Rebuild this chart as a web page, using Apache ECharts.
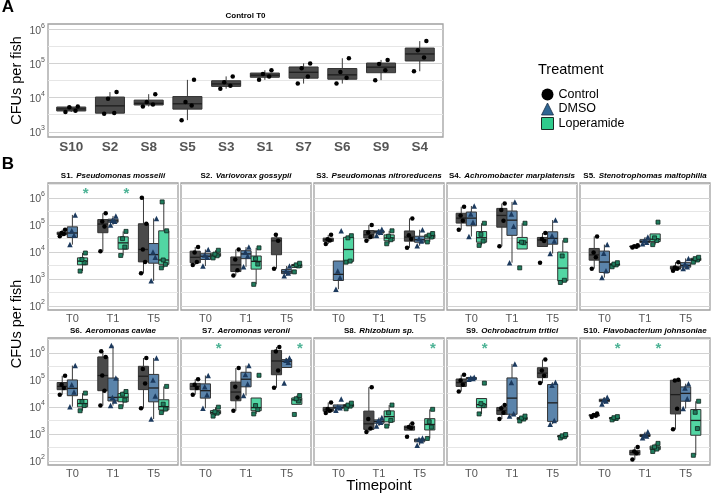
<!DOCTYPE html>
<html><head><meta charset="utf-8">
<script src="https://cdn.jsdelivr.net/npm/echarts@6/dist/echarts.min.js"></script>
<style>html,body{margin:0;padding:0;background:#fff}#c{width:713px;height:494px}</style>
</head><body><div id="c"></div>
<script>
// ================= DATA =================
// Panel A: Control T0 (CFUs per fish, one value per fish)
const strainsA = ['S10','S2','S8','S5','S3','S1','S7','S6','S9','S4'];
const controlT0 = [
  [3800,4170,5250,5500],
  [3400,3550,9300,14500],
  [5500,6300,7400,12600],
  [2200,5900,7400,33000],
  [18200,22400,28200,41700],
  [33000,41700,49000,63000],
  [25700,41700,72400,100000],
  [25700,38000,56200,141000],
  [32400,63100,95500,126000],
  [58900,148000,240000,447000]
];
// Panel B
const timepoints = ['T0','T1','T5'];
const treatments = ['Control','DMSO','Loperamide'];
const strainIds = ['S1','S2','S3','S4','S5','S6','S7','S8','S9','S10'];
const species = ['Pseudomonas mosselii','Variovorax gossypii','Pseudomonas nitroreducens','Achromobacter marplatensis','Stenotrophomas maltophilia','Aeromonas caviae','Aeromonas veronii','Rhizobium sp.','Ochrobactrum tritici','Flavobacterium johnsoniae'];
// each strain: [Control[T0,T1,T5], DMSO[T0,T1,T5], Loperamide[T0,T1,T5]]
const s1 = [
  [[38000,45700,50100,66100],[10500,87100,132000,269000],[1620,4270,12300,110000,1000000]],
  [[18600,41700,60300,234000],[100000,135000,148000,214000],[850,6300,10000,174000]],
  [[1950,3980,5250,9100],[7400,15100,30900,57500],[2570,3470,5010,60300,708000]]
];
const s2 = [
  [[3300,4200,9500,15100],[1350,2090,5250,12300],[2400,25700,42700]],
  [[3000,6300,7600,12300],[2800,7100,10000,15100],[1320,1660,2000,3020]],
  [[6000,7200,8300,11500],[630,3550,5600,14100],[1820,3020,3310,3800]]
];
const s3 = [
  [[19500,26300,29500,42700],[25700,35500,52500,100000],[14100,30200,41700,174000]],
  [[417,1120,1950,60300],[40700,53700,57500,69200],[17000,25100,31600,66100]],
  [[4170,4570,33100,39800],[20000,28200,38000,60300],[23400,35500,41700,47900]]
];
const s4 = [
  [[66100,141000,224000,468000],[16200,141000,355000,617000],[3980,25100,30200,50100]],
  [[37200,126000,251000,501000],[3980,89100,251000,708000],[8700,25100,39800,151000]],
  [[17400,25100,44700,115000],[2570,21900,22900,115000],[740,890,7080,26900]]
];
const s5 = [
  [[2400,6300,9550,37200],[14500,15500,16200,17800],[2000,2400,2630,4170]],
  [[1120,2000,8900,18600],[20000,22900,26300,35500],[2450,2820,3550,5750]],
  [[2820,3310,3550,3980],[18600,26300,33100,126000],[4170,5010,5620,6310]]
];
const s6 = [
  [[28200,50100,66100,141000],[11200,39800,145000,708000,1150000],[8900,74100,251000,646000]],
  [[10200,35500,66100,339000],[11200,16600,22400,117000,1860000],[3550,25100,100000,646000]],
  [[7200,11200,15800,32400],[10200,17800,29500,37200],[6170,8300,12600,57500]]
];
const s7 = [
  [[28200,50100,66100,105000],[7200,22400,56200,275000],[51300,224000,1120000,1660000]],
  [[8900,28200,56200,145000],[26300,70800,158000,339000],[75900,447000,537000,646000]],
  [[4570,5890,6610,9770],[5500,7940,11200,148000],[5250,16600,20000,26300]]
];
const s8 = [
  [[5890,7240,8320,14500],[1170,1580,3550,53700],[794,1660,1820,2450]],
  [[7590,9330,10000,19500],[1950,2690,3090,4070],[380,560,630,710]],
  [[8510,10700,11700,13800],[1950,3160,6030,11700],[680,1780,2820,8130]]
];
const s9 = [
  [[37200,66100,95500,155000],[3550,6030,8910,11700],[75900,141000,224000,562000]],
  [[105000,112000,120000,126000],[4570,5620,79400,389000],[2290,3160,63100,81300]],
  [[5500,11200,13200,75900],[3020,3550,3890,4570],[710,790,850,950]]
];
const s10 = [
  [[4270,4680,5010,5750],[112,191,224,331],[1480,8510,95500,102000]],
  [[12900,16600,18200,22900],[724,832,891,1200],[8700,20000,50100,72400]],
  [[3310,3720,3980,4370],[224,275,331,447],[162,1580,6310,16200]]
];
const strainData = [s1,s2,s3,s4,s5,s6,s7,s8,s9,s10];
// significance stars (Loperamide vs control): [strain index, timepoint index]
const starMarks = [[0,0],[0,1],[6,0],[6,2],[7,2],[8,0],[9,0],[9,1]];
const starLevel = 1900000;

// ================= STYLE / LAYOUT =================
const FONT = '"Liberation Sans", Arial, Helvetica, sans-serif';
const fills = ['#4a4a4a', '#5b84ab', '#52d6a3'];
const ptColor = ['#000000', '#1c3a5e', '#1f7d5e'];
const ptBorder = ['#000000', '#1c3a5e', '#10241d'];
const ptSymbol = ['circle', 'triangle', 'rect'];
const ptSize = [4.5, 5.5, 4];
const jitterB = [-0.6, 0.4, -0.15, 0.7, -0.4];
const jitterA = [-1.5, 1.1, -0.5, 1.7, -1.0];
const dodge = [-2.5, 0, 2.5];
const starOffset = 3.3;
const colLeft = [48, 181, 314, 447, 580], colW = 130;
const rowTop = [183, 338], rowH = 127;
const gridA = {left: 48, top: 24, width: 395, height: 113};
const labelGray = '#555';

// gridline colour pattern: ticks every 0.05 decade starting at x.85
const gridPattern = [];
for (let i = 0; i < 20; i++) gridPattern.push(i === 3 ? '#d2d2d2' : (i === 13 ? '#e6e6e6' : 'rgba(0,0,0,0)'));

function q7(s, p) { const h = (s.length - 1) * p, lo = Math.floor(h), hi = Math.ceil(h); return s[lo] + (h - lo) * (s[hi] - s[lo]); }
function boxStats(vals) {
  const l = vals.map(v => Math.log10(v) * 100).sort((a, b) => a - b);
  const q1 = q7(l, .25), m = q7(l, .5), q3 = q7(l, .75), iqr = q3 - q1;
  const lo = Math.min(...l.filter(v => v >= q1 - 1.5 * iqr));
  const hi = Math.max(...l.filter(v => v <= q3 + 1.5 * iqr));
  return [lo, q1, m, q3, hi];
}

const yRich = {
  b: {fontSize: 10.5, color: labelGray, fontFamily: FONT, lineHeight: 14, verticalAlign: 'bottom'},
  s: {fontSize: 7, color: labelGray, fontFamily: FONT, lineHeight: 9, verticalAlign: 'top'}
};
function makeY(gi, min, max, show) {
  return {type: 'value', gridIndex: gi, min, max, interval: 5,
    axisLine: {show: false}, axisTick: {show: false},
    splitLine: {show: true, lineStyle: {color: gridPattern, width: 1}},
    axisLabel: {show: show, margin: 3, formatter: v => (Math.round(v) % 100 === 0) ? '{b|10}{s|' + Math.round(v / 100) + '}' : '', rich: yRich}};
}
function makeX(gi, min, max, labels, lab) {
  return {type: 'value', gridIndex: gi, min, max, interval: 2,
    axisLine: {show: false}, axisTick: {show: false}, splitLine: {show: false},
    axisLabel: Object.assign({formatter: v => (v >= 0 && v % 10 === 0 && labels[v / 10]) ? labels[v / 10] : ''}, lab)};
}
function renderBox(params, api) {
  const x = api.value(0), w = api.value(6), ci = api.value(7);
  const lo = api.coord([x, api.value(1)]), q1 = api.coord([x, api.value(2)]), md = api.coord([x, api.value(3)]);
  const q3 = api.coord([x, api.value(4)]), hi = api.coord([x, api.value(5)]);
  const half = api.size([w, 0])[0] / 2;
  const stroke = '#333';
  return {type: 'group', children: [
    {type: 'line', shape: {x1: lo[0], y1: lo[1], x2: q1[0], y2: q1[1]}, style: {stroke: '#3a3a3a', lineWidth: 1}},
    {type: 'line', shape: {x1: q3[0], y1: q3[1], x2: hi[0], y2: hi[1]}, style: {stroke: '#3a3a3a', lineWidth: 1}},
    {type: 'rect', shape: {x: q3[0] - half, y: q3[1], width: 2 * half, height: q1[1] - q3[1]}, style: {fill: fills[ci], stroke: stroke, lineWidth: 1}},
    {type: 'line', shape: {x1: md[0] - half, y1: md[1], x2: md[0] + half, y2: md[1]}, style: {stroke: '#1e1e1e', lineWidth: 1.3}}
  ]};
}
function pointSeries(gi, k, data) {
  return {type: 'scatter', name: treatments[k], xAxisIndex: gi, yAxisIndex: gi, z: 4, data,
    symbol: ptSymbol[k], symbolSize: ptSize[k], itemStyle: {color: ptColor[k], borderColor: ptBorder[k], borderWidth: k === 2 ? 0.8 : 0, opacity: 1}};
}

const grids = [], xAxes = [], yAxes = [], series = [], graphics = [];
const gridBase = {show: true, borderColor: '#a0a0a0', borderWidth: 1.3, backgroundColor: 'rgba(0,0,0,0)'};

// ---- Panel A
grids.push(Object.assign({}, gridBase, gridA));
xAxes.push(makeX(0, -6, 96, strainsA, {margin: 3, fontSize: 13.5, fontWeight: 'bold', color: labelGray, fontFamily: FONT}));
yAxes.push(makeY(0, 285, 615, true));
{
  const boxes = [], pts = [];
  controlT0.forEach((vals, i) => {
    const st = boxStats(vals);
    boxes.push([10 * i].concat(st, [7.5, 0]));
    vals.forEach((v, j) => pts.push([10 * i + jitterA[j % jitterA.length], Math.log10(v) * 100]));
  });
  series.push({type: 'custom', name: 'boxA', xAxisIndex: 0, yAxisIndex: 0, z: 2, renderItem: renderBox, data: boxes, encode: {x: 0, y: [1, 2, 3, 4, 5]}, clip: true});
  series.push(pointSeries(0, 0, pts));
}

// ---- Panel B
strainData.forEach((sd, s) => {
  const gi = s + 1, col = s % 5, row = Math.floor(s / 5);
  grids.push(Object.assign({}, gridBase, {left: colLeft[col], top: rowTop[row], width: colW, height: rowH}));
  xAxes.push(makeX(gi, -6, 26, timepoints, {margin: 3, fontSize: 11, color: labelGray, fontFamily: FONT}));
  yAxes.push(makeY(gi, 185, 655, col === 0));
  const boxes = [];
  sd.forEach((byTime, k) => {
    const pts = [];
    byTime.forEach((vals, t) => {
      const x = 10 * t + dodge[k];
      boxes.push([x].concat(boxStats(vals), [2.5, k]));
      vals.forEach((v, j) => pts.push([x + jitterB[j % jitterB.length], Math.log10(v) * 100]));
    });
    series.push(pointSeries(gi, k, pts));
  });
  series.push({type: 'custom', name: 'box' + s, xAxisIndex: gi, yAxisIndex: gi, z: 2, renderItem: renderBox, data: boxes, encode: {x: 0, y: [1, 2, 3, 4, 5]}, clip: true});
  const stars = starMarks.filter(m => m[0] === s).map(m => [10 * m[1] + starOffset, Math.log10(starLevel) * 100]);
  if (stars.length) {
    series.push({type: 'scatter', name: 'sig' + s, xAxisIndex: gi, yAxisIndex: gi, z: 5, data: stars,
      symbol: 'circle', symbolSize: 1, itemStyle: {color: 'rgba(0,0,0,0)'},
      label: {show: true, position: 'inside', formatter: '*', fontSize: 15, fontWeight: 'bold', color: '#22a07c', fontFamily: FONT, offset: [0, 4]}});
  }
  graphics.push({type: 'text', x: colLeft[col] + colW / 2, y: rowTop[row] - 7.5,
    style: {text: '{n|' + strainIds[s] + '.} {i|' + species[s] + '}', align: 'center', verticalAlign: 'middle', textAlign: 'center', textVerticalAlign: 'middle',
      rich: {n: {fontSize: 8, fontWeight: 'bold', fontFamily: FONT, color: '#111'}, i: {fontSize: 8, fontWeight: 'bold', fontStyle: 'italic', fontFamily: FONT, color: '#111'}}}});
});

// ---- Text
function txt(t, x, y, size, weight, extra) {
  return Object.assign({type: 'text', x, y, style: {text: t, fontSize: size, fontWeight: weight || 'normal', fontFamily: FONT, fill: '#000',
    align: 'center', verticalAlign: 'middle', textAlign: 'center', textVerticalAlign: 'middle'}}, extra || {});
}
graphics.push(txt('A', 8, 7, 17, 'bold'));
graphics.push(txt('B', 8, 164, 17, 'bold'));
graphics.push(txt('Control T0', gridA.left + gridA.width / 2, 16, 8, 'bold'));
graphics.push(txt('CFUs per fish', 17, gridA.top + gridA.height / 2, 14.5, 'normal', {rotation: Math.PI / 2}));
graphics.push(txt('CFUs per fish', 17, (rowTop[0] + rowTop[1] + rowH) / 2, 14.5, 'normal', {rotation: Math.PI / 2}));
graphics.push(txt('Timepoint', (colLeft[0] + colLeft[4] + colW) / 2, 486, 15, 'normal'));
graphics.push({type: 'text', x: 538, y: 70, style: {text: 'Treatment', fontSize: 14.5, fontFamily: FONT, fill: '#000', align: 'left', verticalAlign: 'middle', textAlign: 'left', textVerticalAlign: 'middle'}});

const chart = echarts.init(document.getElementById('c'), null, {renderer: 'canvas'});
chart.setOption({
  animation: false,
  backgroundColor: '#fff',
  grid: grids, xAxis: xAxes, yAxis: yAxes, series,
  legend: {
    orient: 'vertical', left: 536, top: 83, itemWidth: 12, itemHeight: 12, itemGap: 1.5, selectedMode: false,
    textStyle: {fontSize: 12.5, fontFamily: FONT, color: '#000', lineHeight: 13},
    data: [
      {name: 'Control', icon: 'circle', itemStyle: {color: '#000', borderWidth: 0}},
      {name: 'DMSO', icon: 'triangle', itemStyle: {color: '#2e6592', borderColor: '#1a2f45', borderWidth: 0.8}},
      {name: 'Loperamide', icon: 'rect', itemStyle: {color: '#2fcb8c', borderColor: '#1b2b25', borderWidth: 1}}
    ]
  },
  graphic: graphics
});
</script></body></html>
